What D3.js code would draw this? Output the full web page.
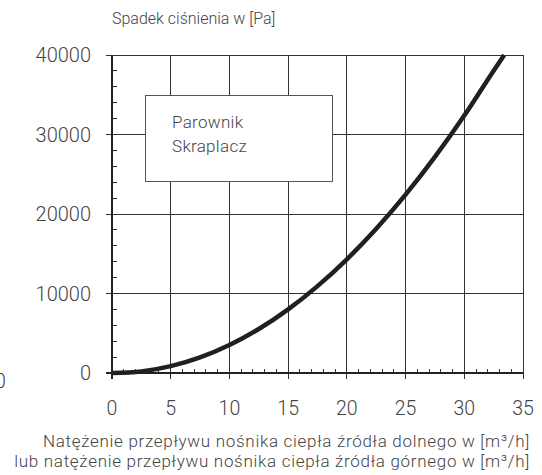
<!DOCTYPE html>
<html>
<head>
<meta charset="utf-8">
<script src="https://cdn.jsdelivr.net/npm/d3@7"></script>
<style>
  body { margin: 0; background: #fff; }
  svg { display: block; }
  text { font-family: Roboto, "Liberation Sans", Arial, sans-serif; font-weight: 300; fill: #444; }
</style>
</head>
<body>
<div id="chart"></div>
<script>
// przepływ [m3/h] i spadek ciśnienia [Pa]
var flow = [0, 2.5, 5, 7.5, 10, 12.5, 15, 17.5, 20, 22.5, 25, 27.5, 30, 32.5, 33.4];
var pressure = [0, 200, 860, 1960, 3510, 5530, 8000, 10930, 14300, 18140, 22430, 27180, 32380, 38030, 40000];
var xTicks = [0, 5, 10, 15, 20, 25, 30, 35];
var yTicks = [0, 10000, 20000, 30000, 40000];
var legendLabels = ["Parownik", "Skraplacz"];
var yTitle = "Spadek ciśnienia w [Pa]";
var xTitle = ["Natężenie przepływu nośnika ciepła źródła dolnego w [m³/h]",
              "lub natężenie przepływu nośnika ciepła źródła górnego w [m³/h]"];

var width = 542, height = 475,
    m = { left: 112, right: 523, top: 55, bottom: 373 };

var svg = d3.select("#chart").append("svg")
    .attr("width", width)
    .attr("height", height);

var x = d3.scaleLinear().domain([0, 35]).range([m.left, m.right]);
var y = d3.scaleLinear().domain([0, 40000]).range([m.bottom, m.top]);

// siatka
var grid = svg.append("g").attr("stroke", "#333").attr("stroke-width", 1).attr("shape-rendering", "crispEdges");
grid.selectAll(".vx").data(xTicks).enter().append("line")
    .attr("x1", function (d) { return x(d); }).attr("x2", function (d) { return x(d); })
    .attr("y1", m.top).attr("y2", m.bottom + 6);
grid.selectAll(".hy").data(yTicks).enter().append("line")
    .attr("x1", m.left - 6).attr("x2", m.right)
    .attr("y1", function (d) { return y(d); }).attr("y2", function (d) { return y(d); });

// drobne kreski
grid.selectAll(".mx").data(d3.range(1, 35).filter(function (d) { return d % 5; })).enter().append("line")
    .attr("x1", function (d) { return x(d); }).attr("x2", function (d) { return x(d); })
    .attr("y1", m.bottom).attr("y2", m.bottom - 4);
grid.selectAll(".my").data(d3.range(2000, 40000, 2000).filter(function (d) { return d % 10000; })).enter().append("line")
    .attr("x1", m.left).attr("x2", m.left + 5)
    .attr("y1", function (d) { return y(d); }).attr("y2", function (d) { return y(d); });

// osie
svg.append("line").attr("x1", m.left).attr("x2", m.left).attr("y1", m.top).attr("y2", m.bottom + 6)
    .attr("stroke", "#222").attr("stroke-width", 2);
svg.append("line").attr("x1", m.left - 6).attr("x2", m.right).attr("y1", m.bottom).attr("y2", m.bottom)
    .attr("stroke", "#222").attr("stroke-width", 2);

// opisy osi
svg.selectAll(".yl").data(yTicks).enter().append("text")
    .attr("x", m.left - 21).attr("y", function (d) { return y(d); })
    .attr("dy", "0.36em").attr("text-anchor", "end").attr("font-size", 20)
    .text(function (d) { return d; });
svg.selectAll(".xl").data(xTicks).enter().append("text")
    .attr("x", function (d) { return x(d); }).attr("y", 415)
    .attr("text-anchor", "middle").attr("font-size", 19.5)
    .text(function (d) { return d; });
svg.append("text").attr("x", -5).attr("y", 388).attr("font-size", 19.5).text("0");

svg.append("text").attr("x", m.left).attr("y", 24).attr("font-size", 16).text(yTitle);
svg.selectAll(".xt").data(xTitle).enter().append("text")
    .attr("x", 530).attr("y", function (d, i) { return 447 + i * 20; })
    .attr("text-anchor", "end").attr("font-size", 17).attr("letter-spacing", 0.7)
    .text(function (d) { return d; });

// krzywa
var line = d3.line()
    .x(function (d) { return x(d[0]); })
    .y(function (d) { return y(d[1]); })
    .curve(d3.curveMonotoneX);
svg.append("path").datum(d3.zip(flow, pressure))
    .attr("d", line).attr("fill", "none")
    .attr("stroke", "#231f20").attr("stroke-width", 4.5).attr("stroke-linecap", "butt");

// legenda
var lg = svg.append("g");
lg.append("rect").attr("x", 145.5).attr("y", 95.5).attr("width", 187).attr("height", 86)
    .attr("fill", "#fff").attr("stroke", "#555").attr("stroke-width", 1);
lg.selectAll("text").data(legendLabels).enter().append("text")
    .attr("x", 172).attr("y", function (d, i) { return 128 + i * 24; })
    .attr("font-size", 17).attr("letter-spacing", 0.3)
    .text(function (d) { return d; });
</script>
</body>
</html>
